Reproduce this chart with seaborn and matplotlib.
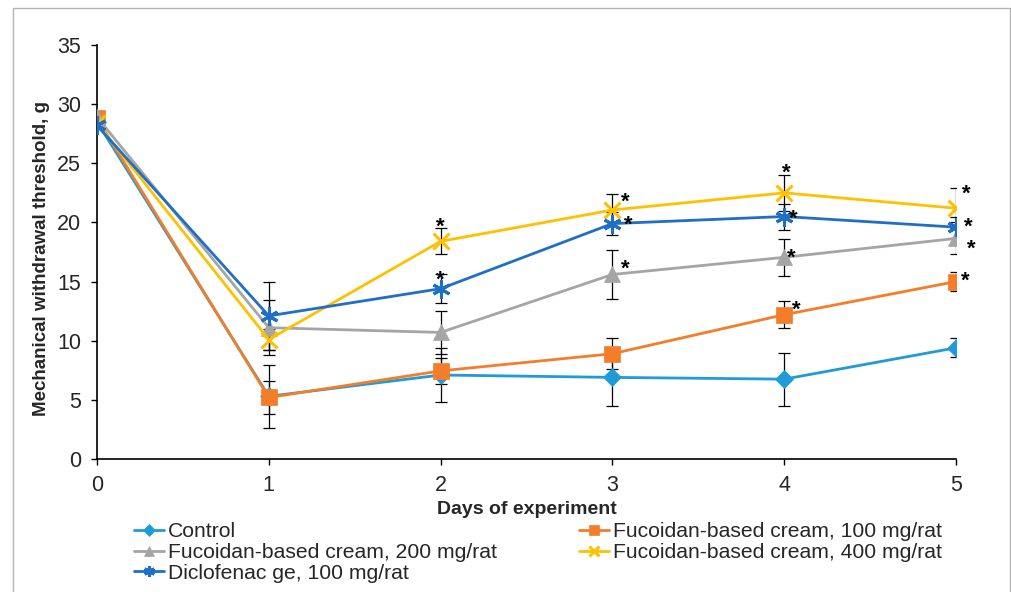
import matplotlib
matplotlib.use("Agg")
import matplotlib.pyplot as plt
import seaborn as sns
import numpy as np
from matplotlib.patches import Rectangle

# Days of observation
days = [0, 1, 2, 3, 4, 5]

# Group labels
labels = [
    "Control",
    "Fucoidan-based cream, 100 mg/rat",
    "Fucoidan-based cream, 200 mg/rat",
    "Fucoidan-based cream, 400 mg/rat",
    "Diclofenac ge, 100 mg/rat",
]

# Mean mechanical withdrawal threshold, g
control = [28.5, 5.3, 7.1, 6.9, 6.75, 9.4]
fuco_100 = [28.8, 5.2, 7.45, 8.9, 12.2, 15.0]
fuco_200 = [28.9, 11.1, 10.7, 15.6, 17.05, 18.65]
fuco_400 = [28.4, 10.1, 18.4, 21.05, 22.5, 21.2]
diclofenac = [28.2, 12.1, 14.4, 19.9, 20.5, 19.6]

# Standard deviations
control_sd = [0.3, 2.65, 2.3, 2.4, 2.25, 0.8]
fuco_100_sd = [0.3, 1.4, 1.1, 1.3, 1.15, 0.8]
fuco_200_sd = [0.3, 2.3, 1.8, 2.1, 1.55, 1.35]
fuco_400_sd = [0.3, 0.9, 1.1, 1.35, 1.5, 1.7]
diclofenac_sd = [0.3, 2.9, 1.2, 1.0, 1.1, 0.9]

# Significance marks: (series index, day, x offset px, y offset px)
signif = [
    (3, 2, 0, -21), (4, 2, 0, -15),
    (3, 3, 13, -15), (4, 3, 16, -5), (2, 3, 13, -12),
    (3, 4, 2, -27), (4, 4, 9, -4), (2, 4, 7, -6), (1, 4, 12, -11),
    (3, 5, 10, -21), (4, 5, 12, -7), (2, 5, 15, 4), (1, 5, 9, -7),
]

means = [control, fuco_100, fuco_200, fuco_400, diclofenac]
sds = [control_sd, fuco_100_sd, fuco_200_sd, fuco_400_sd, diclofenac_sd]
colors = ["#1F9BD7", "#F47D2A", "#A5A5A5", "#FFC000", "#1E6FC5"]
markers = ["D", "s", "^", "x", (6, 2, 0)]
msizes = [9.5, 11, 11, 12, 13]

sns.set_theme(style="white")
plt.rcParams["font.family"] = ["Liberation Sans", "DejaVu Sans"]

fig = plt.figure(figsize=(10.12, 5.92), dpi=100)
ax = fig.add_axes([97 / 1012, 1 - 459 / 592, (956 - 97) / 1012, (459 - 45) / 592])

# Error bars under the lines
for m, s in zip(means, sds):
    ax.errorbar(days, m, yerr=s, fmt="none", ecolor="black", elinewidth=0.9,
                capsize=4, capthick=0.9, zorder=1)

for i, (m, c, mk, ms, lab) in enumerate(zip(means, colors, markers, msizes, labels)):
    stroke = mk == "x" or isinstance(mk, tuple)
    sns.lineplot(x=days, y=m, color=c, marker=mk, markersize=ms,
                 markeredgecolor=c, markeredgewidth=2.2 if stroke else 0.5,
                 linewidth=2.0, label=lab, ax=ax, zorder=2 + i)

# Asterisks for significant differences
for si, d, dx, dy in signif:
    ax.annotate("*", xy=(days[d], means[si][d]), xytext=(dx * 0.72, -dy * 0.72 - 9),
                textcoords="offset points", ha="center", va="baseline",
                fontsize=16, fontweight="bold", color="black", zorder=10)

ax.set_xlim(0, 5)
ax.set_ylim(0, 35)
ax.set_xticks(days)
ax.set_yticks(np.arange(0, 36, 5))
ax.tick_params(axis="both", which="both", direction="out", length=4.5, width=1,
               color="black", labelsize=15.5, pad=7, left=True, bottom=True)
for sp in ["top", "right"]:
    ax.spines[sp].set_visible(False)
for sp in ["left", "bottom"]:
    ax.spines[sp].set_color("black")
    ax.spines[sp].set_linewidth(1.2)

ax.set_xlabel("Days of experiment", fontsize=14, fontweight="bold")
ax.set_ylabel("Mechanical withdrawal threshold, g", fontsize=13.5, fontweight="bold")
ax.xaxis.set_label_coords(0.5, (459 - 501) / 414)
ax.yaxis.set_label_coords((50 - 97) / 859, 0.5 - 6 / 414)

# Legend filled row by row: Control | 100, 200 | 400, Diclofenac
handles, labs = ax.get_legend_handles_labels()
order = [0, 2, 4, 1, 3]
ax.legend([handles[k] for k in order], [labs[k] for k in order],
          loc="upper left", bbox_to_anchor=(134 / 1012, 1 - 522 / 592),
          bbox_transform=fig.transFigure, ncol=2, frameon=False, fontsize=15.2,
          markerscale=0.6, handlelength=1.4, handletextpad=0.2, labelspacing=0.09,
          columnspacing=3.9, borderpad=0, borderaxespad=0)

# Outer chart frame
fig.patches.append(Rectangle((13 / 1012, -0.05), (1010 - 13) / 1012, 1 - 8 / 592 + 0.05,
                             transform=fig.transFigure, fill=False,
                             edgecolor="#B4B4B4", linewidth=1.0, zorder=0))

fig.savefig("out.png", dpi=100)
